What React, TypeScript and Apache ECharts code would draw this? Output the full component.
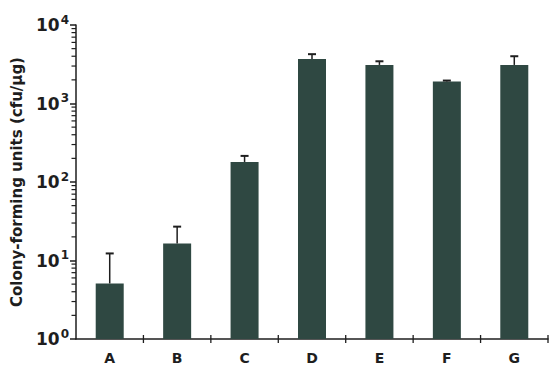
import React, { useEffect, useRef } from "react";
import * as echarts from "echarts";

const categories = ["A", "B", "C", "D", "E", "F", "G"];
const meanValues = [5.1, 16.5, 180, 3700, 3100, 1900, 3100];
const upperErrors = [12.3, 27, 215, 4250, 3450, 1960, 4000];
const yTickExponents = [0, 1, 2, 3, 4];
const minorMultipliers = [2, 3, 4, 5, 6, 7, 8, 9];
const minorDecades = [1, 10, 100, 1000];

const barColor = "#2f4842";
const inkColor = "#1e1e1e";
const fontFamily = "'DejaVu Sans', 'Open Sans', sans-serif";

export default function App() {
  const ref = useRef<HTMLDivElement>(null);

  useEffect(() => {
    if (!ref.current) return;
    const chart = echarts.init(ref.current, null, { renderer: "svg" });

    const minorTickValues: number[] = [];
    minorDecades.forEach((d) => minorMultipliers.forEach((m) => minorTickValues.push(m * d)));

    const option: any = {
      animation: false,
      backgroundColor: "#ffffff",
      grid: { left: 76, right: 1, top: 25, bottom: 28, containLabel: false },
      xAxis: {
        type: "category",
        data: categories,
        boundaryGap: true,
        axisLine: { lineStyle: { color: inkColor, width: 1.5 } },
        axisTick: { show: false },
        axisLabel: {
          color: inkColor,
          fontSize: 14,
          fontWeight: "bold",
          fontFamily,
          margin: 12,
        },
      },
      yAxis: {
        type: "log",
        logBase: 10,
        min: 1,
        max: 10000,
        name: "Colony-forming units (cfu/\u03bcg)",
        nameLocation: "middle",
        nameRotate: 90,
        nameGap: 52,
        nameTextStyle: {
          color: inkColor,
          fontSize: 15,
          fontWeight: "bold",
          fontFamily,
        },
        splitLine: { show: false },
        axisLine: { show: true, lineStyle: { color: inkColor, width: 1.5 } },
        axisTick: { show: true, length: 6, lineStyle: { color: inkColor, width: 1.5 } },
        axisLabel: {
          margin: 7,
          formatter: (v: number) => {
            const e = Math.round(Math.log10(v));
            if (!yTickExponents.includes(e)) return "";
            return `{b|10}{s|${e}}`;
          },
          rich: {
            b: { fontSize: 17, color: inkColor, fontFamily, fontWeight: "bold" },
            s: {
              fontSize: 12,
              color: inkColor,
              fontFamily,
              fontWeight: "bold",
              padding: [0, 0, 11, 1],
            },
          },
        },
      },
      series: [
        {
          type: "bar",
          data: meanValues,
          barWidth: 28,
          itemStyle: { color: barColor },
          z: 2,
        },
        {
          type: "custom",
          data: categories.map((_, i) => [i, meanValues[i], upperErrors[i]]),
          z: 10,
          clip: false,
          renderItem: (params: any, api: any) => {
            const i = api.value(0);
            const low = api.coord([i, api.value(1)]);
            const high = api.coord([i, api.value(2)]);
            const cap = 4;
            const style = { stroke: inkColor, lineWidth: 1.5 };
            const children: any[] = [
              { type: "line", shape: { x1: low[0], y1: low[1], x2: high[0], y2: high[1] }, style },
              { type: "line", shape: { x1: high[0] - cap, y1: high[1], x2: high[0] + cap, y2: high[1] }, style: { stroke: inkColor, lineWidth: 2 } },
            ];
            const base0 = api.coord([i, 1]);
            const base1 = api.coord([i + 1, 1]);
            const bw = base1[0] - base0[0];
            const bx = base0[0] + bw / 2;
            children.push({
              type: "line",
              shape: { x1: bx, y1: base0[1] - 4, x2: bx, y2: base0[1] + 4 },
              style: { stroke: inkColor, lineWidth: 1.3 },
            });
            if (params.dataIndex === 0) {
              const left = base0[0] - bw / 2;
              minorTickValues.forEach((v) => {
                const p = api.coord([i, v]);
                children.push({
                  type: "line",
                  shape: { x1: left - 4.5, y1: p[1], x2: left, y2: p[1] },
                  style: { stroke: inkColor, lineWidth: 1.2 },
                });
              });
            }
            return { type: "group", children };
          },
        },
      ],
    };

    chart.setOption(option);
    return () => chart.dispose();
  }, []);

  return (
    <div
      ref={ref}
      style={{ position: "fixed", left: 0, top: 0, width: 549, height: 367, background: "#fff" }}
    />
  );
}
